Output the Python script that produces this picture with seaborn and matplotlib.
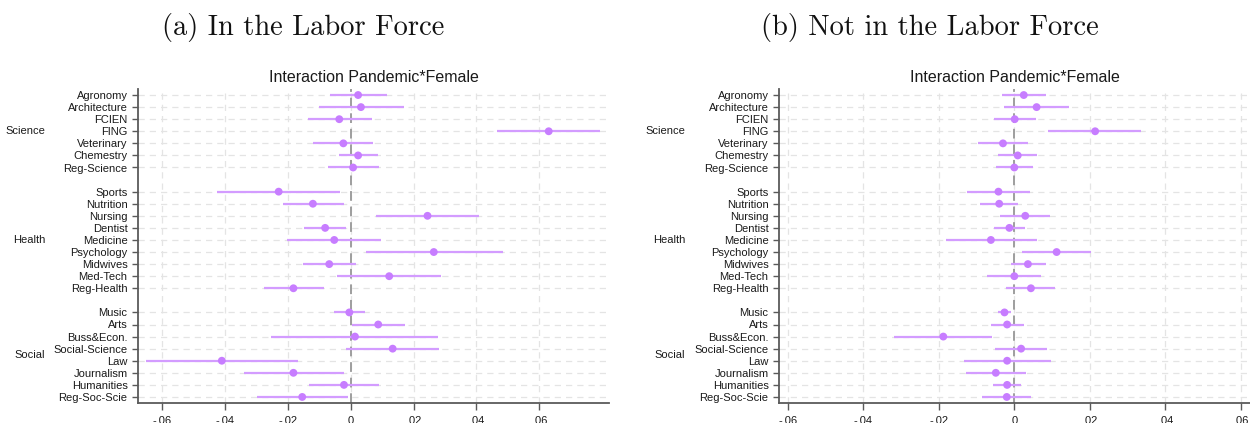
import numpy as np
import pandas as pd
import matplotlib
matplotlib.use("Agg")
import matplotlib.pyplot as plt
import matplotlib.transforms as mtransforms
from matplotlib.ticker import FuncFormatter, FixedLocator
import seaborn as sns

# ---------------- data ----------------
groups = ["Science", "Health", "Social"]
programs = [
    ["Agronomy", "Architecture", "FCIEN", "FING", "Veterinary", "Chemestry", "Reg-Science"],
    ["Sports", "Nutrition", "Nursing", "Dentist", "Medicine", "Psychology", "Midwives", "Med-Tech", "Reg-Health"],
    ["Music", "Arts", "Buss&Econ.", "Social-Science", "Law", "Journalism", "Humanities", "Reg-Soc-Scie"],
]

# (a) In the Labor Force
coef_a = [0.0023, 0.0032, -0.0037, 0.0630, -0.0024, 0.0023, 0.0007,
          -0.0230, -0.0121, 0.0244, -0.0082, -0.0053, 0.0264, -0.0069, 0.0122, -0.0183,
          -0.0005, 0.0087, 0.0013, 0.0133, -0.0411, -0.0183, -0.0022, -0.0155]
lo_a = [-0.0067, -0.0103, -0.0138, 0.0466, -0.0121, -0.0037, -0.0073,
        -0.0428, -0.0217, 0.0080, -0.0150, -0.0203, 0.0047, -0.0154, -0.0045, -0.0278,
        -0.0053, 0.0003, -0.0253, -0.0016, -0.0653, -0.0341, -0.0133, -0.0300]
hi_a = [0.0115, 0.0168, 0.0066, 0.0793, 0.0071, 0.0086, 0.0089,
        -0.0035, -0.0023, 0.0408, -0.0015, 0.0096, 0.0483, 0.0016, 0.0288, -0.0086,
        0.0044, 0.0172, 0.0279, 0.0281, -0.0169, -0.0023, 0.0089, -0.0008]

# (b) Not in the Labor Force
coef_b = [0.0025, 0.0059, 0.0001, 0.0214, -0.0030, 0.0009, 0.0000,
          -0.0042, -0.0040, 0.0029, -0.0013, -0.0062, 0.0112, 0.0036, 0.0000, 0.0044,
          -0.0026, -0.0019, -0.0188, 0.0018, -0.0019, -0.0049, -0.0019, -0.0020]
lo_b = [-0.0032, -0.0026, -0.0054, 0.0090, -0.0096, -0.0042, -0.0049,
        -0.0125, -0.0090, -0.0037, -0.0054, -0.0182, 0.0021, -0.0010, -0.0071, -0.0021,
        -0.0043, -0.0063, -0.0318, -0.0050, -0.0134, -0.0129, -0.0057, -0.0086]
hi_b = [0.0083, 0.0145, 0.0057, 0.0336, 0.0035, 0.0060, 0.0049,
        0.0042, 0.0011, 0.0095, 0.0027, 0.0061, 0.0202, 0.0083, 0.0071, 0.0109,
        -0.0008, 0.0026, -0.0058, 0.0086, 0.0098, 0.0030, 0.0018, 0.0045]

xticks = [-0.06, -0.04, -0.02, 0.0, 0.02, 0.04, 0.06]
panel_titles = ["(a) In the Labor Force", "(b) Not in the Labor Force"]
axes_title = "Interaction Pandemic*Female"

# ---------------- layout of rows ----------------
names, grp, pos = [], [], []
p = 0
group_centers = []
for g, progs in zip(groups, programs):
    start = p
    for nm in progs:
        names.append(nm)
        grp.append(g)
        pos.append(p)
        p += 1
    group_centers.append((start + p - 1) / 2)
    p += 1  # blank row between groups
last_pos = pos[-1]

df_a = pd.DataFrame({"name": names, "group": grp, "pos": pos, "coef": coef_a, "lo": lo_a, "hi": hi_a})
df_b = pd.DataFrame({"name": names, "group": grp, "pos": pos, "coef": coef_b, "lo": lo_b, "hi": hi_b})

# ---------------- style ----------------
sns.set_theme(style="white")
plt.rcParams["font.family"] = ["Liberation Sans", "DejaVu Sans"]

W, H = 1250, 423
fig = plt.figure(figsize=(W / 100, H / 100), dpi=100)

dot_col = "#C77DFF"
line_col = "#D39CFF"
grid_col = "#E4E4E4"
spine_col = "#5A5A5A"
lab_fs = 8.0

def fmt(v, _):
    if abs(v) < 1e-12:
        return "0"
    s = f"{v:.2f}"
    return s.replace("0.", ".")

def draw(ax, df, xlim, label_x_px):
    for y in df["pos"]:
        ax.axhline(y, color=grid_col, lw=0.9, ls=(0, (5, 4)), zorder=0)
    for x in xticks:
        ax.axvline(x, color=grid_col, lw=0.9, ls=(0, (5, 4)), zorder=0)
    ax.axvline(0, color="#9E9E9E", lw=1.4, ls=(0, (5, 3)), zorder=1)
    ax.hlines(df["pos"], df["lo"], df["hi"], color=line_col, lw=1.6, zorder=2)
    sns.scatterplot(data=df, x="coef", y="pos", ax=ax, color=dot_col, s=32,
                    edgecolor="none", linewidth=0, zorder=3, legend=False)
    ax.set_xlim(*xlim)
    ax.set_ylim(last_pos + 0.5, -0.5)
    ax.set_yticks(df["pos"])
    ax.set_yticklabels(df["name"])
    ax.xaxis.set_major_locator(FixedLocator(xticks))
    ax.xaxis.set_major_formatter(FuncFormatter(fmt))
    ax.set_xlabel("")
    ax.set_ylabel("")
    ax.set_title(axes_title, fontsize=11.5, pad=5, color="#1a1a1a")
    for s in ["top", "right"]:
        ax.spines[s].set_visible(False)
    for s in ["left", "bottom"]:
        ax.spines[s].set_color(spine_col)
        ax.spines[s].set_linewidth(1.3)
    ax.tick_params(axis="y", which="major", left=True, length=4.5, width=1, color=spine_col,
                   pad=3, labelsize=lab_fs, labelcolor="#1a1a1a")
    ax.tick_params(axis="x", which="major", bottom=True, length=5, width=1, color=spine_col,
                   pad=4, labelsize=lab_fs, labelcolor="#1a1a1a")
    trans = mtransforms.blended_transform_factory(fig.transFigure, ax.transData)
    for g, c in zip(groups, group_centers):
        ax.text(label_x_px / W, c, g, transform=trans, ha="right", va="center",
                fontsize=lab_fs, color="#1a1a1a")

ax1 = fig.add_axes([138 / W, 20 / H, 471 / W, 314 / H])
ax2 = fig.add_axes([779 / W, 20 / H, 471 / W, 314 / H])
draw(ax1, df_a, (-0.0678, 0.0822), 45)
draw(ax2, df_b, (-0.0623, 0.0624), 685)

fig.text(303 / W, 1 - 27 / H, panel_titles[0], family="cmr10", fontsize=20.5,
         ha="center", va="center", color="#111111")
fig.text(930 / W, 1 - 27 / H, panel_titles[1], family="cmr10", fontsize=20.5,
         ha="center", va="center", color="#111111")

fig.savefig("out.png", dpi=100)
